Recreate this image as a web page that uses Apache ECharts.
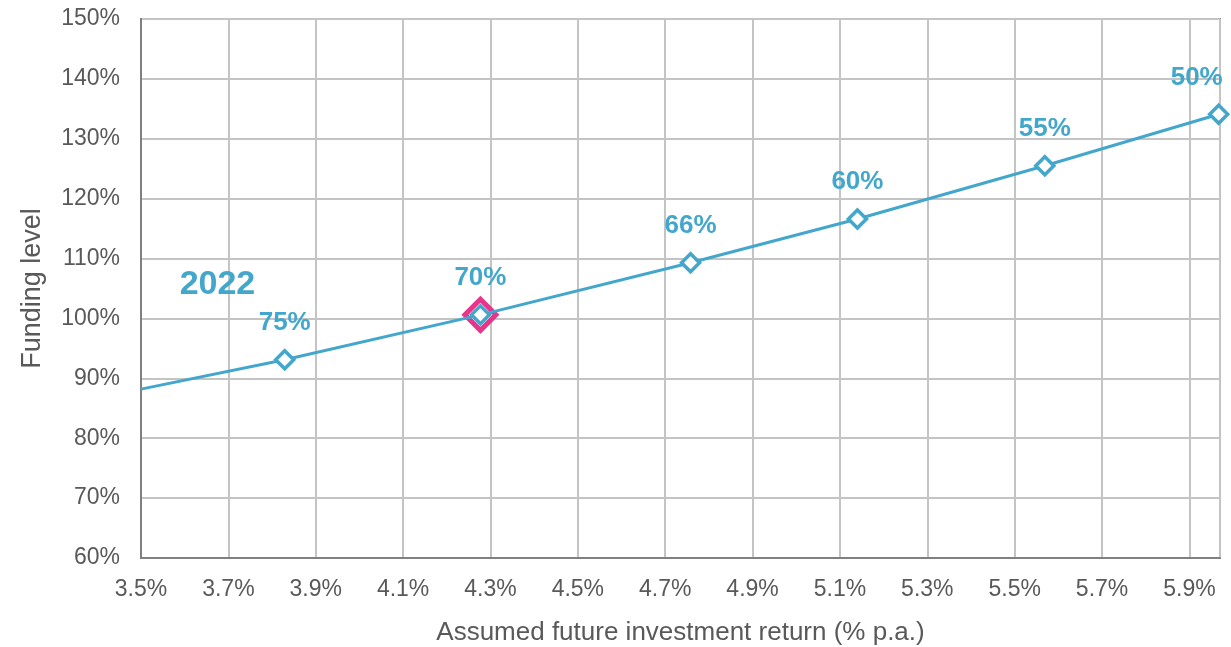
<!DOCTYPE html>
<html>
<head>
<meta charset="utf-8">
<script src="https://cdn.jsdelivr.net/npm/echarts@6/dist/echarts.min.js"></script>
<style>html,body{margin:0;padding:0;background:#fff;}#c{width:1231px;height:647px;}</style>
</head>
<body>
<div id="c"></div>
<script>
// Data
const returns = [3.5, 3.829, 4.277, 4.758, 5.14, 5.569, 5.967];
const fundingLevels = [88.2, 93.1, 100.6, 109.3, 116.6, 125.5, 134.1];
const pointLabels = ['', '75%', '70%', '66%', '60%', '55%', '50%'];
const highlightIndex = 2;
const yearLabel = '2022';
const yearLabelPos = [3.675, 105.6];
const xTicks = { min: 3.5, max: 5.97, interval: 0.2 };
const yTicks = { min: 60, max: 150, interval: 10 };

const blue = '#43A7CC';
const pink = '#E8358C';
const font = 'Liberation Sans, Arial, sans-serif';

const lineData = returns.map((x, i) => {
  const item = { value: [x, fundingLevels[i]], label: { show: pointLabels[i] !== '', formatter: pointLabels[i] } };
  if (pointLabels[i] === '') item.symbol = 'none';
  if (i === returns.length - 1) item.label.offset = [-22, 0];
  return item;
});

const chart = echarts.init(document.getElementById('c'));
chart.setOption({
  animation: false,
  grid: { left: 141, right: 11, top: 19, bottom: 89, show: true, borderColor: '#808080', borderWidth: 2,
    containLabel: false, outerBoundsMode: 'none' },
  xAxis: {
    type: 'value', min: xTicks.min, max: xTicks.max, interval: xTicks.interval,
    name: 'Assumed future investment return (% p.a.)', nameLocation: 'middle', nameGap: 62,
    nameTextStyle: { fontSize: 26, color: '#595959', fontFamily: font },
    axisLine: { show: true, lineStyle: { color: '#808080', width: 2 } },
    axisTick: { show: false },
    axisLabel: { fontSize: 23, color: '#595959', fontFamily: font, margin: 20, showMaxLabel: false,
      formatter: v => v.toFixed(1) + '%' },
    splitLine: { show: true, lineStyle: { color: '#C4C4C4', width: 2 } }
  },
  yAxis: {
    type: 'value', min: yTicks.min, max: yTicks.max, interval: yTicks.interval,
    name: 'Funding level', nameLocation: 'middle', nameGap: 95,
    nameTextStyle: { fontSize: 27, color: '#595959', fontFamily: font },
    axisLine: { show: true, lineStyle: { color: '#808080', width: 2 } },
    axisTick: { show: false },
    axisLabel: { fontSize: 23, color: '#595959', fontFamily: font, margin: 21, formatter: '{value}%' },
    splitLine: { show: true, lineStyle: { color: '#C4C4C4', width: 2 } }
  },
  series: [
    {
      type: 'scatter', z: 3,
      data: [[returns[highlightIndex], fundingLevels[highlightIndex]]],
      symbol: 'diamond', symbolSize: 31,
      itemStyle: { color: '#fff', borderColor: pink, borderWidth: 5, opacity: 1 }
    },
    {
      type: 'line', z: 4, data: lineData,
      symbol: 'diamond', symbolSize: 18, showAllSymbol: true,
      lineStyle: { color: blue, width: 3 },
      itemStyle: { color: '#fff', borderColor: blue, borderWidth: 3.5 },
      label: { show: true, position: 'top', distance: 13, fontSize: 26, fontWeight: 'bold', color: blue, fontFamily: font }
    },
    {
      type: 'scatter', z: 5, symbol: 'circle', symbolSize: 1,
      itemStyle: { color: '#ffffff', opacity: 1 },
      data: [{ value: yearLabelPos }],
      label: { show: true, position: 'inside', formatter: yearLabel, fontSize: 34, fontWeight: 'bold', color: blue, fontFamily: font }
    }
  ]
});
</script>
</body>
</html>
